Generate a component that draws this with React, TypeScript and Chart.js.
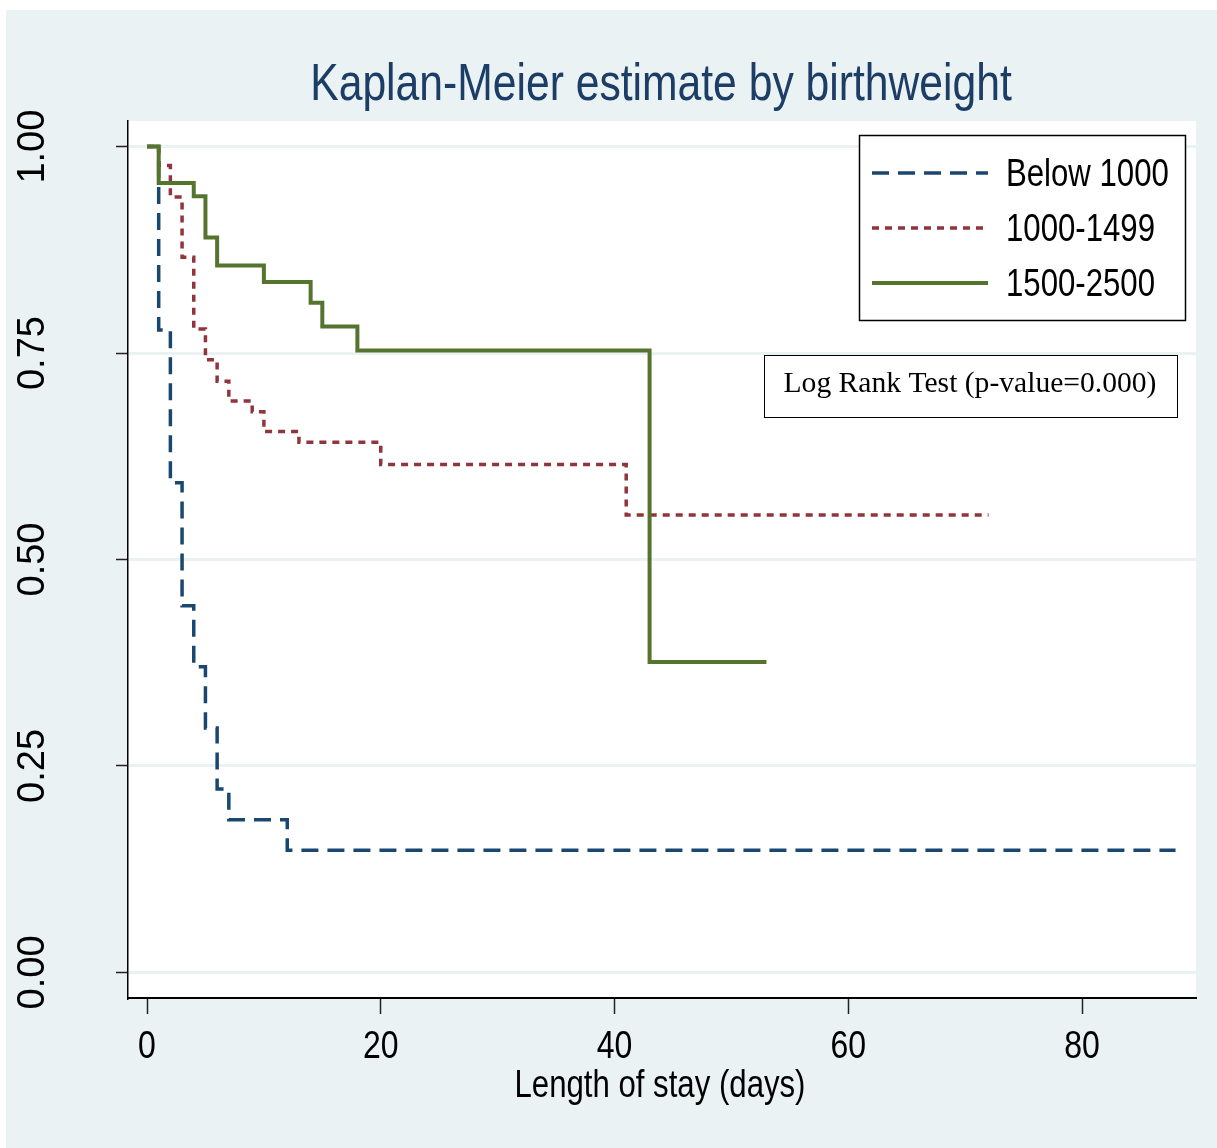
import React, { useEffect, useRef } from "react";
import { Chart, registerables } from "chart.js";

Chart.register(...registerables);

const W = 1217;
const H = 1148;

// Kaplan-Meier step data (time in days, survival estimate)
const below1000T = [0, 1, 2, 3, 4, 5, 6, 7, 12, 88];
const below1000S = [1, 0.778, 0.593, 0.444, 0.37, 0.296, 0.222, 0.185, 0.148, 0.148];

const mid1000T = [0, 1, 2, 3, 4, 5, 6, 7, 9, 10, 13, 20, 41, 72];
const mid1000S = [1, 0.977, 0.939, 0.866, 0.779, 0.742, 0.716, 0.692, 0.679, 0.655, 0.642, 0.615, 0.554, 0.554];

const high1500T = [0, 1, 4, 5, 6, 10, 14, 15, 18, 43, 53];
const high1500S = [1, 0.956, 0.94, 0.89, 0.856, 0.836, 0.811, 0.782, 0.753, 0.376, 0.376];

const seriesNames = ["Below 1000", "1000-1499", "1500-2500"];
const seriesColors = ["#1a476f", "#90353b", "#55752f"];
const seriesDash = [[17, 9], [7, 6], []];
const seriesWidth = [3.5, 3.5, 4];

const xTicks = [0, 20, 40, 60, 80];
const xTickLabels = ["0", "20", "40", "60", "80"];
const yTicks = [0, 0.25, 0.5, 0.75, 1];
const yTickLabels = ["0.00", "0.25", "0.50", "0.75", "1.00"];

const titleText = "Kaplan-Meier estimate by birthweight";
const xTitleText = "Length of stay (days)";
const noteText = "Log Rank Test (p-value=0.000)";

function narrowText(
  ctx: CanvasRenderingContext2D,
  text: string,
  x: number,
  y: number,
  size: number,
  color: string,
  align: CanvasTextAlign
) {
  ctx.save();
  ctx.font = `${size}px 'Liberation Sans', Arial, sans-serif`;
  ctx.fillStyle = color;
  ctx.textBaseline = "middle";
  ctx.textAlign = align;
  ctx.translate(x, y);
  ctx.scale(0.82, 1);
  ctx.fillText(text, 0, 0);
  ctx.restore();
}

const bgPlugin = {
  id: "bgPlugin",
  beforeDraw(chart: any) {
    const ctx = chart.ctx as CanvasRenderingContext2D;
    const a = chart.chartArea;
    ctx.save();
    ctx.fillStyle = "#ffffff";
    ctx.fillRect(0, 0, W, H);
    ctx.fillStyle = "#eaf2f3";
    ctx.fillRect(6, 10, W - 6, H - 10);
    ctx.fillStyle = "#ffffff";
    ctx.fillRect(a.left, a.top, a.right - a.left, a.bottom - a.top);
    ctx.restore();
  },
};

const overlayPlugin = {
  id: "overlayPlugin",
  afterDraw(chart: any) {
    const ctx = chart.ctx as CanvasRenderingContext2D;
    const a = chart.chartArea;
    const xs = chart.scales.x;
    const ys = chart.scales.y;
    const cx = (a.left + a.right) / 2;

    // title
    narrowText(ctx, titleText, cx - 1, 86, 52, "#1c3d66", "center");
    // x axis title
    narrowText(ctx, xTitleText, cx - 2, 1087, 38, "#000000", "center");

    // x tick labels
    xTicks.forEach((v, i) => {
      narrowText(ctx, xTickLabels[i], xs.getPixelForValue(v), 1047, 39, "#000000", "center");
    });

    // y tick labels (rotated)
    yTicks.forEach((v, i) => {
      ctx.save();
      ctx.font = "38px 'Liberation Sans', Arial, sans-serif";
      ctx.fillStyle = "#000000";
      ctx.textAlign = "center";
      ctx.textBaseline = "middle";
      ctx.translate(34, ys.getPixelForValue(v));
      ctx.rotate(-Math.PI / 2);
      ctx.fillText(yTickLabels[i], 0, 0);
      ctx.restore();
    });

    // legend box
    ctx.save();
    ctx.fillStyle = "#ffffff";
    ctx.fillRect(859, 135, 326, 185);
    ctx.strokeStyle = "#000000";
    ctx.lineWidth = 1.5;
    ctx.strokeRect(859.5, 135.5, 326, 185);
    const rows = [173, 228, 283];
    seriesNames.forEach((name, i) => {
      ctx.save();
      ctx.strokeStyle = seriesColors[i];
      ctx.lineWidth = seriesWidth[i];
      ctx.setLineDash(seriesDash[i]);
      ctx.beginPath();
      ctx.moveTo(872, rows[i]);
      ctx.lineTo(988, rows[i]);
      ctx.stroke();
      ctx.restore();
      narrowText(ctx, name, 1006, rows[i] + 3, 38, "#000000", "left");
    });
    ctx.restore();

    // note box
    ctx.save();
    ctx.fillStyle = "#ffffff";
    ctx.fillRect(764, 355, 413, 62);
    ctx.strokeStyle = "#000000";
    ctx.lineWidth = 1;
    ctx.strokeRect(764.5, 355.5, 413, 62);
    ctx.font = "29.6px 'Liberation Serif', 'Times New Roman', serif";
    ctx.fillStyle = "#000000";
    ctx.textAlign = "center";
    ctx.textBaseline = "middle";
    ctx.fillText(noteText, 970, 384);
    ctx.restore();
  },
};

function toPoints(ts: number[], ss: number[]) {
  return ts.map((t, i) => ({ x: t, y: ss[i] }));
}

export default function App() {
  const ref = useRef<HTMLCanvasElement | null>(null);

  useEffect(() => {
    if (!ref.current) return;
    const sets = [
      toPoints(below1000T, below1000S),
      toPoints(mid1000T, mid1000S),
      toPoints(high1500T, high1500S),
    ];
    const chart = new Chart(ref.current, {
      type: "line",
      data: {
        datasets: sets.map((d, i) => ({
          label: seriesNames[i],
          data: d,
          borderColor: seriesColors[i],
          borderWidth: seriesWidth[i],
          borderDash: seriesDash[i],
          borderCapStyle: "butt",
          stepped: "before",
          pointRadius: 0,
          fill: false,
          order: 2 - i,
        })),
      },
      options: {
        animation: false,
        responsive: false,
        devicePixelRatio: 1,
        layout: { padding: { left: 0, top: 121, right: 21, bottom: 0 } },
        plugins: {
          legend: { display: false },
          title: { display: false },
          tooltip: { enabled: false },
        },
        events: [],
        scales: {
          x: {
            type: "linear",
            min: -1.626,
            max: 89.75,
            afterBuildTicks: (s: any) => {
              s.ticks = xTicks.map((v) => ({ value: v }));
            },
            afterFit: (s: any) => {
              s.height = 150;
            },
            ticks: { display: false },
            grid: {
              drawOnChartArea: false,
              drawTicks: true,
              tickLength: 16,
              tickColor: "#222222",
              tickWidth: 1.5,
            },
            border: { display: true, color: "#000000", width: 2 },
          },
          y: {
            type: "linear",
            min: -0.031,
            max: 1.031,
            afterBuildTicks: (s: any) => {
              s.ticks = yTicks.map((v) => ({ value: v }));
            },
            afterFit: (s: any) => {
              s.width = 128;
            },
            ticks: { display: false },
            grid: {
              drawOnChartArea: true,
              color: "#eaf2f3",
              lineWidth: 3,
              drawTicks: true,
              tickLength: 12,
              tickColor: "#222222",
              tickWidth: 1.5,
            },
            border: { display: true, color: "#000000", width: 1.5 },
          },
        },
      },
      plugins: [bgPlugin, overlayPlugin],
    } as any);
    return () => chart.destroy();
  }, []);

  return (
    <div style={{ position: "absolute", left: 0, top: 0, width: W, height: H }}>
      <canvas ref={ref} width={W} height={H} style={{ display: "block" }} />
    </div>
  );
}
